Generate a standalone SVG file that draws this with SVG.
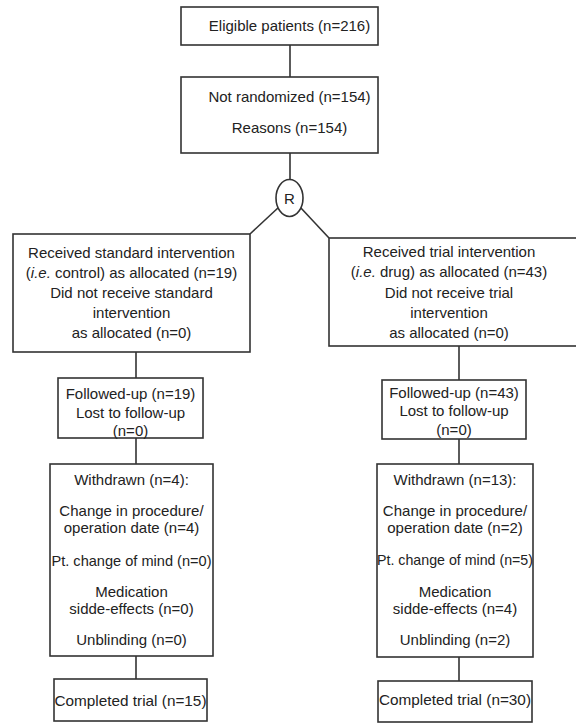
<svg xmlns="http://www.w3.org/2000/svg" width="576" height="723" viewBox="0 0 576 723">
<style>
.box{fill:#fff;stroke:#333;stroke-width:1.6}
.ln{fill:none;stroke:#333;stroke-width:1.6}
text{font-family:"Liberation Sans",Arial,sans-serif;font-size:15px;fill:#222;text-anchor:middle}
</style>
<rect width="576" height="723" fill="#fff"/>
<g id="connectors">
<line class="ln" x1="290" y1="45" x2="290" y2="77"/>
<line class="ln" x1="290" y1="153" x2="290" y2="180"/>
<line class="ln" x1="279" y1="207" x2="250" y2="234"/>
<line class="ln" x1="300" y1="207" x2="329" y2="238"/>
<line class="ln" x1="136" y1="352" x2="136" y2="378"/>
<line class="ln" x1="136" y1="438" x2="136" y2="464"/>
<line class="ln" x1="136" y1="656" x2="136" y2="679"/>
<line class="ln" x1="459" y1="346" x2="459" y2="380"/>
<line class="ln" x1="459" y1="439" x2="459" y2="464"/>
<line class="ln" x1="459" y1="657" x2="459" y2="681"/>
</g>
<g id="eligible">
<rect class="box" x="181" y="7" width="197" height="38"/>
<text x="289.5" y="31">Eligible patients (n=216)</text>
</g>
<g id="not-randomized">
<rect class="box" x="181" y="77" width="197" height="76"/>
<text x="289.5" y="102">Not randomized (n=154)</text>
<text x="289.5" y="133">Reasons (n=154)</text>
</g>
<g id="randomization">
<ellipse class="box" cx="289.5" cy="198" rx="13.5" ry="18.5"/>
<text x="289.5" y="203.5">R</text>
</g>
<g id="control-allocated">
<rect class="box" x="13" y="234" width="237" height="118"/>
<text x="131.5" y="258">Received standard intervention</text>
<text x="131.5" y="278">(<tspan font-style="italic">i.e.</tspan> control) as allocated (n=19)</text>
<text x="131.5" y="297.5">Did not receive standard</text>
<text x="131.5" y="317.5">intervention</text>
<text x="131.5" y="337.5">as allocated (n=0)</text>
</g>
<g id="drug-allocated">
<rect class="box" x="329" y="238" width="252" height="108"/>
<text x="449" y="256.5">Received trial intervention</text>
<text x="449" y="276.5">(<tspan font-style="italic">i.e.</tspan> drug) as allocated (n=43)</text>
<text x="449" y="297.5">Did not receive trial</text>
<text x="449" y="317.5">intervention</text>
<text x="449" y="337.5">as allocated (n=0)</text>
</g>
<g id="control-followup">
<rect class="box" x="58" y="378" width="145" height="60"/>
<text x="130.5" y="398.5">Followed-up (n=19)</text>
<text x="130.5" y="417.5">Lost to follow-up</text>
<text x="130.5" y="435.5">(n=0)</text>
</g>
<g id="drug-followup">
<rect class="box" x="382" y="380" width="144" height="59"/>
<text x="454" y="397.5">Followed-up (n=43)</text>
<text x="454" y="415.5">Lost to follow-up</text>
<text x="454" y="434.5">(n=0)</text>
</g>
<g id="control-withdrawn">
<rect class="box" x="50" y="464" width="163" height="192"/>
<text x="131.5" y="484.5">Withdrawn (n=4):</text>
<text x="131.5" y="516">Change in procedure/</text>
<text x="131.5" y="533">operation date (n=4)</text>
<text x="131.5" y="565.5" textLength="160" lengthAdjust="spacingAndGlyphs">Pt. change of mind (n=0)</text>
<text x="131.5" y="596.5">Medication</text>
<text x="131.5" y="613.5">sidde-effects (n=0)</text>
<text x="131.5" y="644.5">Unblinding (n=0)</text>
</g>
<g id="drug-withdrawn">
<rect class="box" x="377" y="464" width="156" height="193"/>
<text x="455" y="484.5">Withdrawn (n=13):</text>
<text x="455" y="516">Change in procedure/</text>
<text x="455" y="533">operation date (n=2)</text>
<text x="455" y="564.5" textLength="156" lengthAdjust="spacingAndGlyphs">Pt. change of mind (n=5)</text>
<text x="455" y="596.5">Medication</text>
<text x="455" y="613.5">sidde-effects (n=4)</text>
<text x="455" y="644.5">Unblinding (n=2)</text>
</g>
<g id="control-completed">
<rect class="box" x="54" y="679" width="153" height="42"/>
<text x="130.5" y="705.5" textLength="152" lengthAdjust="spacingAndGlyphs">Completed trial (n=15)</text>
</g>
<g id="drug-completed">
<rect class="box" x="378" y="681" width="154" height="41"/>
<text x="455" y="704.5" textLength="152" lengthAdjust="spacingAndGlyphs">Completed trial (n=30)</text>
</g>
</svg>
